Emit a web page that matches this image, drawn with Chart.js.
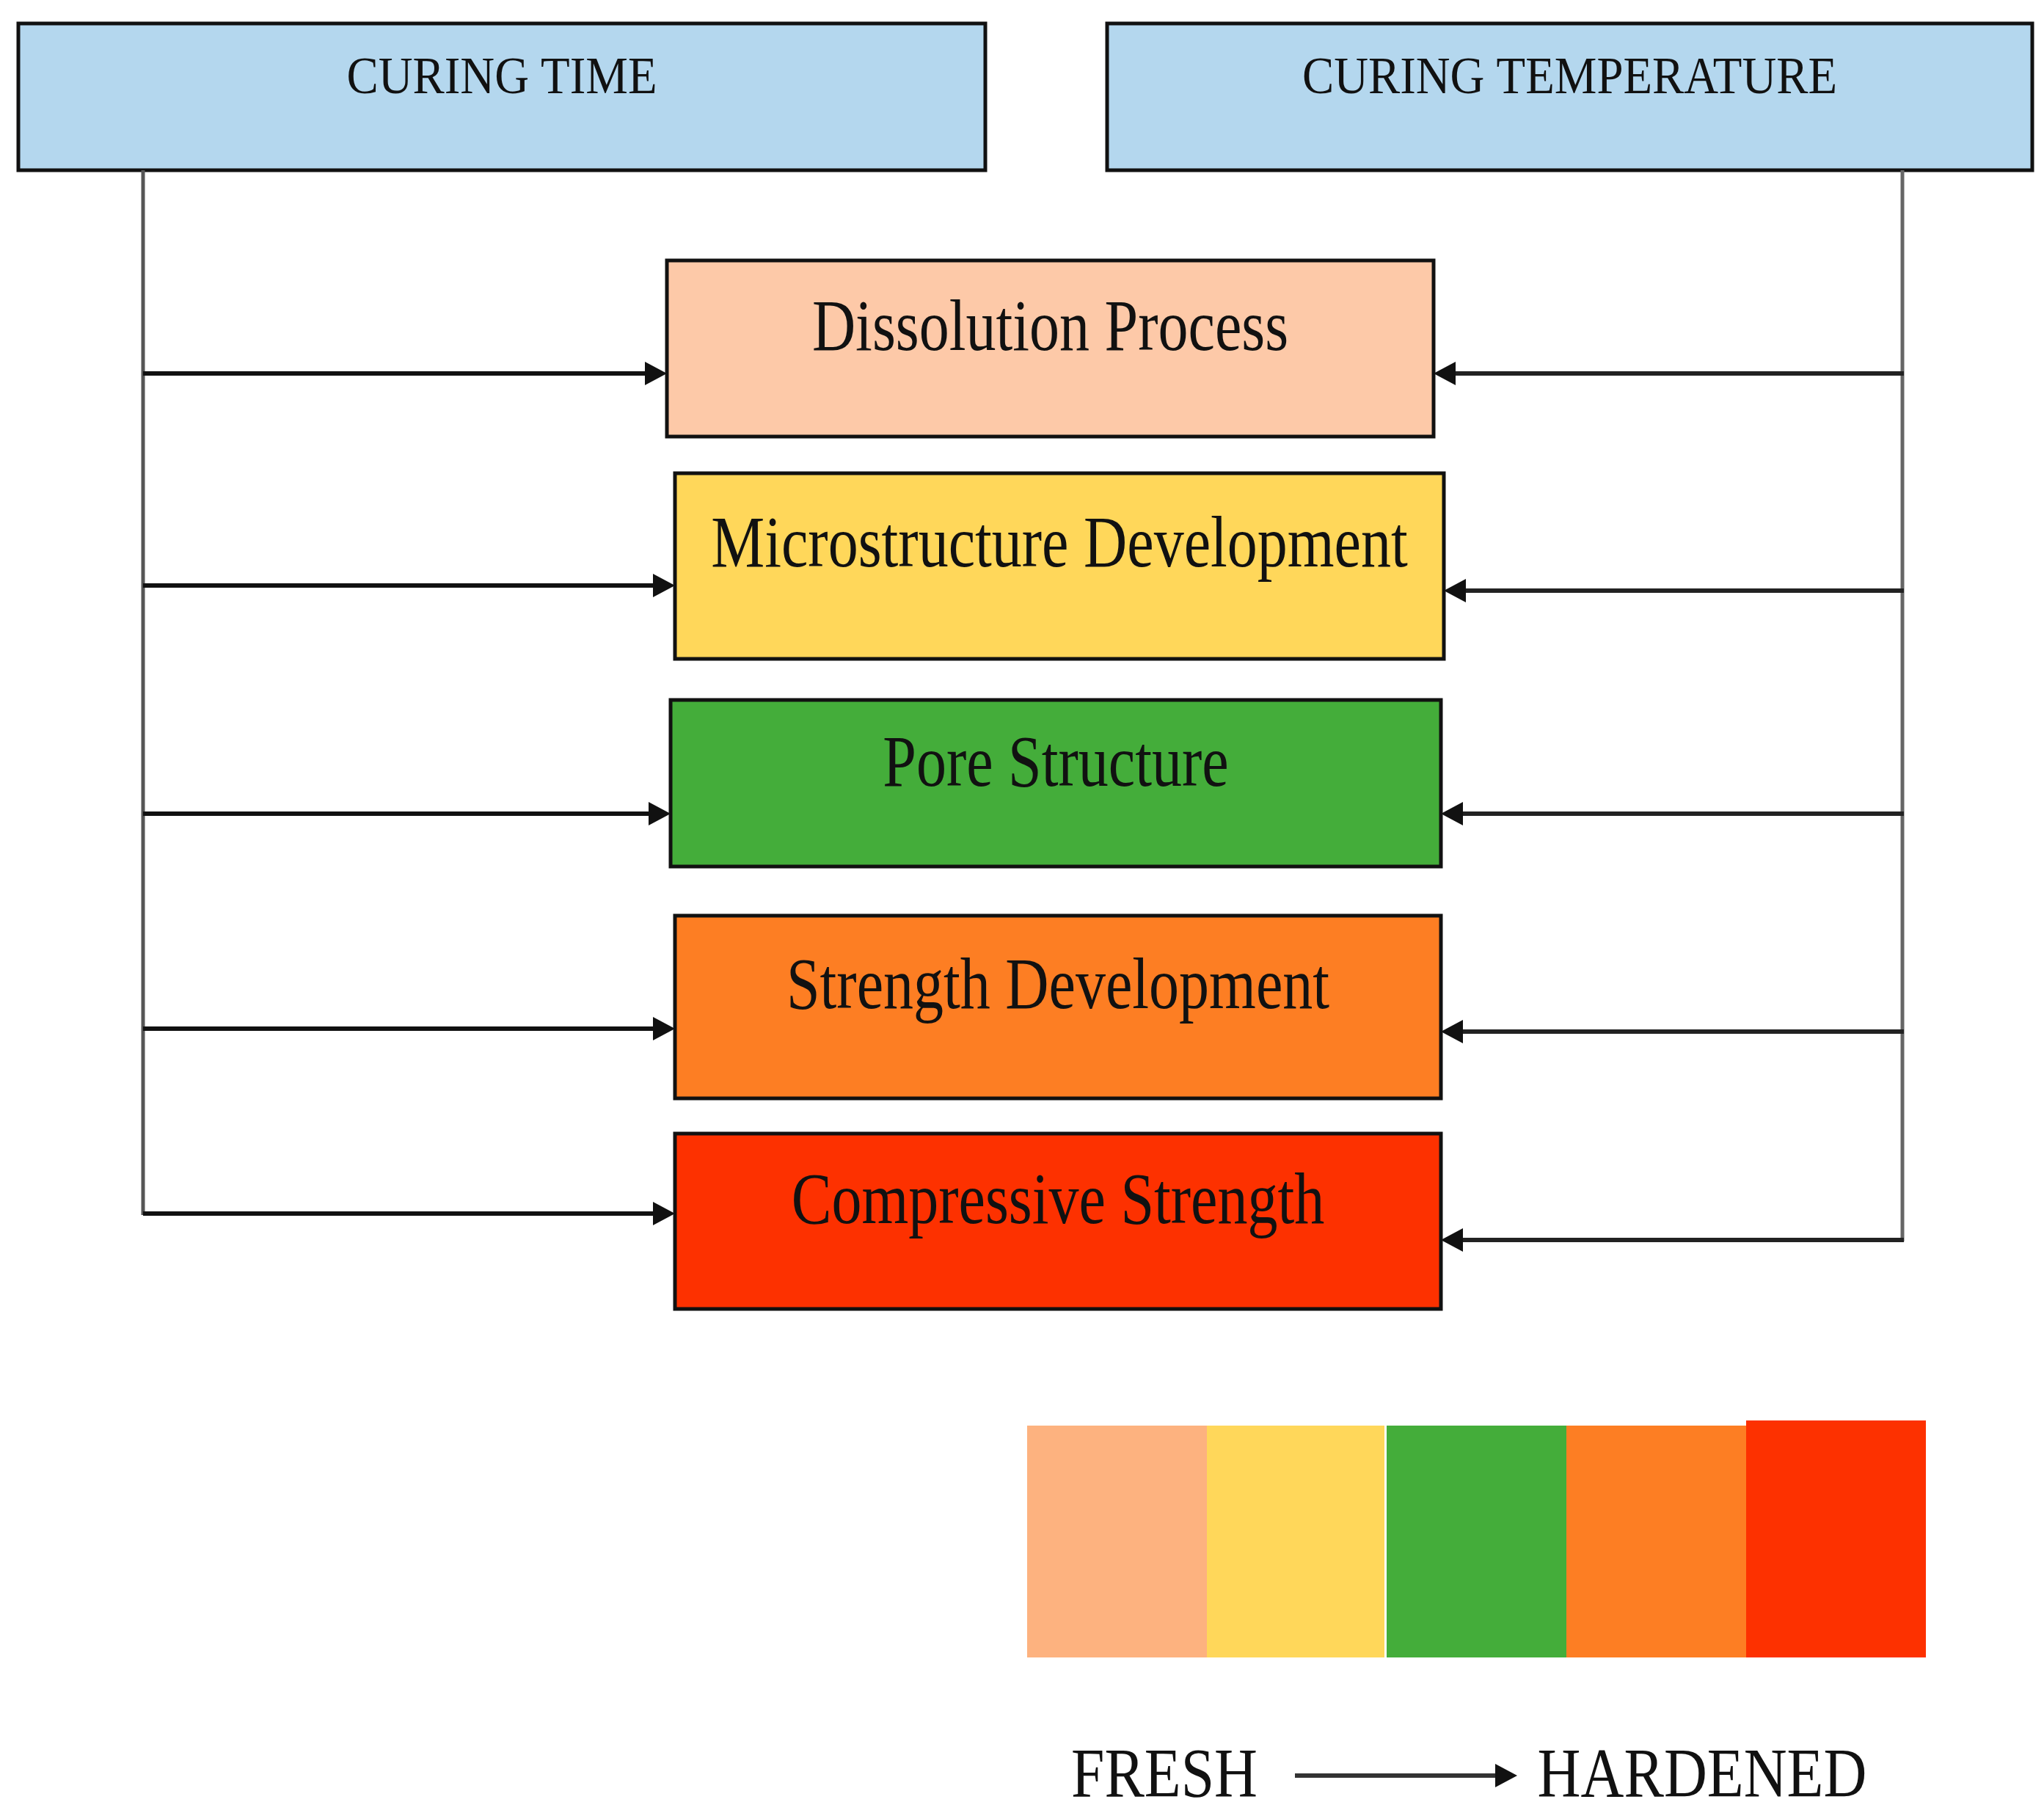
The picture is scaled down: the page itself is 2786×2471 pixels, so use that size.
<!DOCTYPE html>
<html><head><meta charset="utf-8">
<script src="https://cdn.jsdelivr.net/npm/chart.js@4"></script>
<style>html,body{margin:0;padding:0;background:#fff}#w{width:2786px;height:2471px}</style>
</head><body><div id="w"><canvas id="c"></canvas></div>
<script>
// content
const headers = ["CURING TIME", "CURING TEMPERATURE"];
const stages = ["Dissolution Process", "Microstructure Development", "Pore Structure", "Strength Development", "Compressive Strength"];
const stageColors = ["#fdc9a8", "#ffd75a", "#44ad3a", "#fd7e23", "#fd3100"];
const stripColors = ["#fdb27f", "#ffd75a", "#44ad3a", "#fd7e23", "#fd3100"];
const scaleLabels = ["FRESH", "HARDENED"];
// layout (diagram units = pixels of reference)
const headerBoxes = [[25, 32, 1343, 232], [1509, 32, 2770, 232]];
const stageBoxes = [[909, 355, 1954, 595], [920, 645, 1968, 898], [914, 954, 1964, 1181], [920, 1248, 1964, 1497], [920, 1545, 1964, 1784]];
const leftArrowY = [509, 798, 1109, 1402, 1654];
const rightArrowY = [509, 805, 1109, 1406, 1690];

const diagram = {
  id: 'diagram',
  afterDraw(chart) {
    const ctx = chart.ctx, X = v => chart.scales.x.getPixelForValue(v), Y = v => chart.scales.y.getPixelForValue(v);
    const rect = (b, fill, stroke) => {
      ctx.fillStyle = fill; ctx.fillRect(X(b[0]), Y(b[1]), X(b[2]) - X(b[0]), Y(b[3]) - Y(b[1]));
      if (stroke) { ctx.lineWidth = 5; ctx.strokeStyle = '#111'; ctx.strokeRect(X(b[0]), Y(b[1]), X(b[2]) - X(b[0]), Y(b[3]) - Y(b[1])); }
    };
    const text = (s, x, y, size, sx) => {
      ctx.save(); ctx.translate(X(x), Y(y)); ctx.scale(sx, 1);
      ctx.font = size + 'px "Liberation Serif"'; ctx.fillStyle = '#111'; ctx.textAlign = 'center'; ctx.textBaseline = 'middle';
      ctx.fillText(s, 0, 0); ctx.restore();
    };
    const line = (x1, y1, x2, y2, w, c) => { ctx.beginPath(); ctx.moveTo(X(x1), Y(y1)); ctx.lineTo(X(x2), Y(y2)); ctx.lineWidth = w; ctx.strokeStyle = c; ctx.stroke(); };
    const head = (x, y, dir) => { ctx.beginPath(); ctx.moveTo(X(x), Y(y)); ctx.lineTo(X(x - dir * 30), Y(y - 16)); ctx.lineTo(X(x - dir * 30), Y(y + 16)); ctx.closePath(); ctx.fillStyle = '#111'; ctx.fill(); };
    headerBoxes.forEach((b, i) => { rect(b, '#b4d7ee', true); text(headers[i], (b[0] + b[2]) / 2, 108, 72, 0.9); });
    // connector lines
    line(195, 232, 195, 1656, 5, '#555');
    line(2593, 232, 2593, 1692, 5, '#666');
    stageBoxes.forEach((b, i) => {
      line(195, leftArrowY[i], b[0] - 25, leftArrowY[i], 6, '#111'); head(b[0], leftArrowY[i], 1);
      line(2595, rightArrowY[i], b[2] + 25, rightArrowY[i], 6, '#222'); head(b[2], rightArrowY[i], -1);
      rect(b, stageColors[i], true);
      text(stages[i], (b[0] + b[2]) / 2, b[1] + (b[3] - b[1]) * 0.4, 100, 0.82);
    });
    // strip
    stripColors.forEach((c, i) => { rect([1400 + i * 245, i === 4 ? 1936 : 1943, 1400 + (i + 1) * 245 - (i === 1 ? 3 : 0), 2259], c, false); });
    text(scaleLabels[0], 1587, 2424, 96, 0.85);
    text(scaleLabels[1], 2320, 2424, 96, 0.85);
    line(1765, 2420, 2040, 2420, 6, '#333'); head(2068, 2420, 1);
  }
};
new Chart(document.getElementById('c'), {
  type: 'scatter',
  data: { datasets: [{ data: [], pointRadius: 0 }] },
  options: {
    responsive: true, maintainAspectRatio: false, animation: false, layout: { padding: 0 },
    plugins: { legend: { display: false }, tooltip: { enabled: false } },
    scales: { x: { type: 'linear', min: 0, max: 2786, display: false }, y: { type: 'linear', min: 0, max: 2471, reverse: true, display: false } }
  },
  plugins: [diagram]
});
</script></body></html>
